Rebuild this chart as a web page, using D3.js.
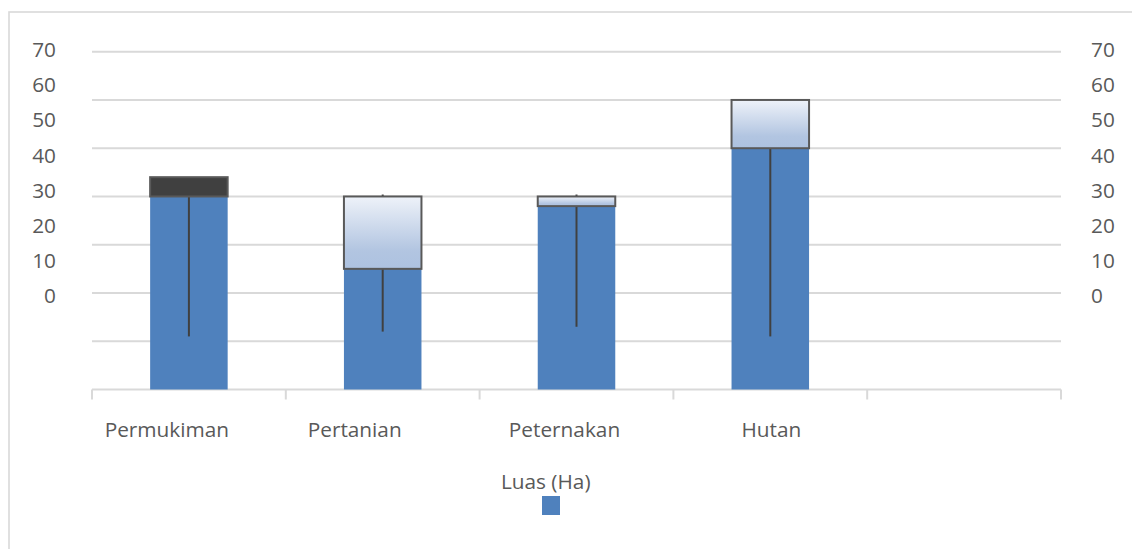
<!DOCTYPE html>
<html><head><meta charset="utf-8">
<script src="https://cdn.jsdelivr.net/npm/d3@7"></script>
<style>
body{margin:0;background:#fff}
svg{display:block}
text{font-family:"Open Sans",sans-serif;fill:#595959}
</style>
</head><body><svg width="1132" height="549"></svg>
<script>
// ---- data ----
const categories = ["Permukiman", "Pertanian", "Peternakan", "Hutan", ""];
const volume = [40, 25, 38, 50];
const openV  = [44, 25, 38, 50];
const highV  = [40, 40.4, 40.4, 50];
const lowV   = [11, 12, 13, 11];
const closeV = [40, 40, 40, 60];
const tickLabels = [0, 10, 20, 30, 40, 50, 60, 70];
const seriesName = "Luas (Ha)";

// ---- layout ----
const svg = d3.select("svg");
const W = 1132, H = 549;
const FS = 20.8;
const plotL = 92, plotR = 1061;
const x = d3.scaleBand().domain(categories).range([plotL, plotR]).paddingInner(0).paddingOuter(0);
const y = d3.scaleLinear().domain([0, 70]).range([389.5, 51.7]);
const yLab = d3.scaleLinear().domain([0, 70]).range([302.7, 56.7]);
const barW = x.bandwidth() * 0.4;
const labelShift = [-22, -28, -12, 1, 0];

const defs = svg.append("defs");
const grad = defs.append("linearGradient").attr("id", "upGrad")
  .attr("x1", 0).attr("y1", 0).attr("x2", 0).attr("y2", 1);
grad.append("stop").attr("offset", "0%").attr("stop-color", "#eef2f9");
grad.append("stop").attr("offset", "75%").attr("stop-color", "#b2c5e1");
grad.append("stop").attr("offset", "100%").attr("stop-color", "#adc2e0");

// outer chart border (left & top visible)
svg.append("rect").attr("x", 9).attr("y", 12).attr("width", W + 20).attr("height", H + 20)
  .attr("fill", "none").attr("stroke", "#d9d9d9").attr("stroke-width", 1.6);

// gridlines
svg.append("g").selectAll("line").data(tickLabels.filter(d => d > 0)).join("line")
  .attr("x1", plotL).attr("x2", plotR)
  .attr("y1", d => y(d)).attr("y2", d => y(d))
  .attr("stroke", "#d9d9d9").attr("stroke-width", 2);

// category axis
svg.append("line").attr("x1", plotL).attr("x2", plotR).attr("y1", y(0)).attr("y2", y(0))
  .attr("stroke", "#d9d9d9").attr("stroke-width", 2);
const bounds = categories.map(c => x(c)).concat([plotR]);
svg.append("g").selectAll("line").data(bounds).join("line")
  .attr("x1", d => d).attr("x2", d => d).attr("y1", y(0)).attr("y2", y(0) + 10)
  .attr("stroke", "#d9d9d9").attr("stroke-width", 2);

// value labels (left & right)
const leftAxis = d3.axisLeft(yLab).tickValues(tickLabels).tickSize(0).tickPadding(0).tickFormat(d3.format("d"));
const gl = svg.append("g").attr("transform", "translate(56,0)").call(leftAxis);
const rightAxis = d3.axisRight(yLab).tickValues(tickLabels).tickSize(0).tickPadding(0).tickFormat(d3.format("d"));
const gr = svg.append("g").attr("transform", "translate(1091,0)").call(rightAxis);
[gl, gr].forEach(g => {
  g.select(".domain").remove();
  g.selectAll("text").attr("dy", 0).attr("font-size", FS).attr("fill", "#595959")
    .attr("font-family", "Open Sans, sans-serif");
});

// volume bars
const rows = volume.map((v, i) => ({c: categories[i], v, o: openV[i], h: highV[i], l: lowV[i], cl: closeV[i]}));
svg.append("g").selectAll("rect").data(rows).join("rect")
  .attr("x", d => x(d.c) + (x.bandwidth() - barW) / 2)
  .attr("width", barW)
  .attr("y", d => y(d.v))
  .attr("height", d => y(0) - y(d.v))
  .attr("fill", "#4f81bd");

// high-low lines
svg.append("g").selectAll("line").data(rows).join("line")
  .attr("x1", d => x(d.c) + x.bandwidth() / 2).attr("x2", d => x(d.c) + x.bandwidth() / 2)
  .attr("y1", d => y(d.h)).attr("y2", d => y(d.l))
  .attr("stroke", "#404040").attr("stroke-width", 2);

// up/down bars
svg.append("g").selectAll("rect").data(rows).join("rect")
  .attr("x", d => x(d.c) + (x.bandwidth() - barW) / 2)
  .attr("width", barW)
  .attr("y", d => y(Math.max(d.o, d.cl)))
  .attr("height", d => Math.abs(y(d.o) - y(d.cl)))
  .attr("fill", d => d.o > d.cl ? "#404040" : "url(#upGrad)")
  .attr("stroke", "#595959").attr("stroke-width", 2);

// category labels
svg.append("g").selectAll("text").data(categories).join("text")
  .attr("x", (d, i) => x(d) + x.bandwidth() / 2 + labelShift[i])
  .attr("y", 437)
  .attr("text-anchor", "middle").attr("font-size", FS)
  .text(d => d);

// legend
svg.append("text").attr("x", 545.7).attr("y", 489).attr("text-anchor", "middle")
  .attr("font-size", FS).text(seriesName);
svg.append("rect").attr("x", 542).attr("y", 496).attr("width", 18).attr("height", 19).attr("fill", "#4f81bd");
</script>
</body></html>
